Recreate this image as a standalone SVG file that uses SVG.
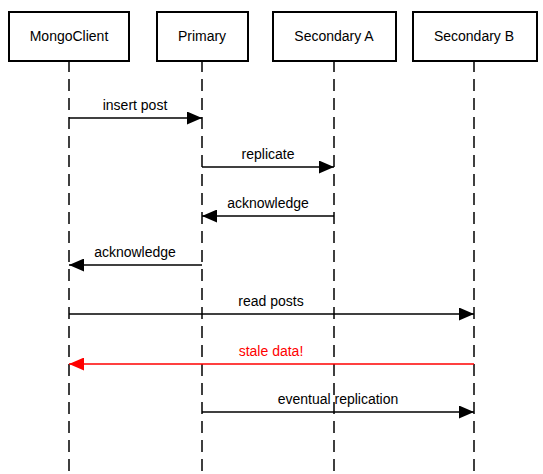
<svg xmlns="http://www.w3.org/2000/svg" width="543" height="474" viewBox="0 0 543 474">
<style>
.box{fill:#fff;stroke:#000;stroke-width:2}
.lbl{font-family:"Liberation Sans",Arial,sans-serif;font-size:14px;text-anchor:middle;fill:#000}
.life{stroke:#000;stroke-width:1.5;stroke-dasharray:12,7;fill:none}
.msg{stroke:#000;stroke-width:1.3;fill:none}
</style>
<defs>
<marker id="ah" viewBox="0 0 15 13" refX="15" refY="6.5" markerWidth="15" markerHeight="13" markerUnits="userSpaceOnUse" orient="auto"><path d="M0,0 L15,6.5 L0,13 Z" fill="#000"/></marker>
<marker id="ahr" viewBox="0 0 15 13" refX="15" refY="6.5" markerWidth="15" markerHeight="13" markerUnits="userSpaceOnUse" orient="auto"><path d="M0,0 L15,6.5 L0,13 Z" fill="#f00"/></marker>
</defs>
<g id="lifelines">
<path class="life" d="M69,60 V474 M202,60 V474 M334,60 V474 M474,60 V474"/>
</g>
<g id="n-mongoclient"><rect class="box" x="9" y="12" width="120" height="49"/><text class="lbl" x="69" y="41">MongoClient</text></g>
<g id="n-primary"><rect class="box" x="157" y="12" width="91" height="49"/><text class="lbl" x="202" y="41">Primary</text></g>
<g id="n-secondary-a"><rect class="box" x="273" y="12" width="123" height="49"/><text class="lbl" x="334" y="41">Secondary A</text></g>
<g id="n-secondary-b"><rect class="box" x="413" y="12" width="124" height="49"/><text class="lbl" x="474" y="41">Secondary B</text></g>
<g id="connectors">
<line class="msg" x1="69" y1="118" x2="202" y2="118" marker-end="url(#ah)"/>
<text class="lbl" x="135" y="110">insert post</text>
<line class="msg" x1="202" y1="167" x2="334" y2="167" marker-end="url(#ah)"/>
<text class="lbl" x="268" y="159">replicate</text>
<line class="msg" x1="334" y1="216" x2="202" y2="216" marker-end="url(#ah)"/>
<text class="lbl" x="268" y="208">acknowledge</text>
<line class="msg" x1="202" y1="265" x2="69" y2="265" marker-end="url(#ah)"/>
<text class="lbl" x="135" y="257">acknowledge</text>
<line class="msg" x1="69" y1="314" x2="474" y2="314" marker-end="url(#ah)"/>
<text class="lbl" x="271" y="306">read posts</text>
<line class="msg" x1="474" y1="364" x2="69" y2="364" style="stroke:#f00" marker-end="url(#ahr)"/>
<text class="lbl" x="271" y="356" style="fill:#f00">stale data!</text>
<line class="msg" x1="202" y1="412" x2="474" y2="412" marker-end="url(#ah)"/>
<text class="lbl" x="338" y="404">eventual replication</text>
</g>
</svg>
